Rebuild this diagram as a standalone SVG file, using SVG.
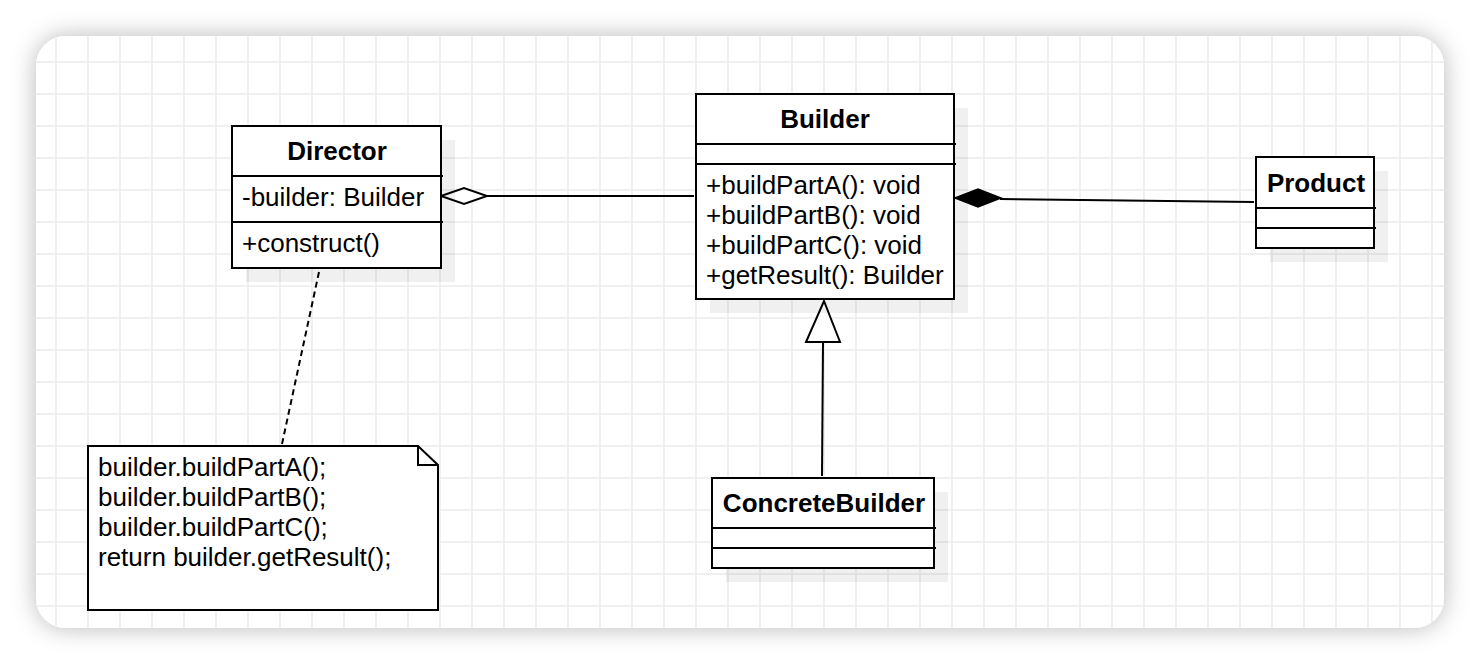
<svg xmlns="http://www.w3.org/2000/svg" width="1480" height="664" viewBox="0 0 1480 664">
<defs>
<filter id="cardShadow" x="-10%" y="-10%" width="120%" height="120%">
<feDropShadow dx="0" dy="0" stdDeviation="12" flood-color="#000" flood-opacity="0.28"/>
</filter>
<pattern id="grid" patternUnits="userSpaceOnUse" x="8" y="14" width="32" height="32">
<path d="M16 0 V32 M0 16 H32" stroke="#ececec" stroke-width="1.6" fill="none"/>
</pattern>
</defs>
<style>
.box{fill:#fff;stroke:#000;stroke-width:2}
.shd{fill:#000;fill-opacity:0.06}
.div{stroke:#000;stroke-width:2}
.t{font-family:"Liberation Sans",Arial,Helvetica,sans-serif;font-size:26px;fill:#000}
.b{font-weight:bold;text-anchor:middle}
.ln{stroke:#000;stroke-width:2;fill:none}
</style>
<rect width="1480" height="664" fill="#fff"/>
<rect x="36" y="36" width="1408" height="592" rx="30" fill="#fff" filter="url(#cardShadow)"/>
<rect x="36" y="36" width="1408" height="592" rx="30" fill="url(#grid)"/>

<g id="connectors">
<path class="ln" d="M487 196 H694"/>
<path d="M441 196 L464 188 L487 196 L464 204 Z" fill="#fff" stroke="#000" stroke-width="2"/>
<path class="ln" d="M1000 199 L1254 202"/>
<path d="M955 198 L978 189 L1001 198 L978 207 Z" fill="#000" stroke="#000" stroke-width="1.5"/>
<path class="ln" d="M823 342 L822 476"/>
<path d="M824 301 L840 342 L806 342 Z" fill="#fff" stroke="#000" stroke-width="2"/>
<path class="ln" d="M319 272 L282 444" stroke-dasharray="6 4" stroke-width="1.6"/>
</g>

<g id="director">
<rect class="shd" x="246" y="140" width="209" height="142"/>
<rect class="box" x="232" y="126" width="209" height="142"/>
<path class="div" d="M232 176 H443 M232 222 H443"/>
<text class="t b" x="337" y="160">Director</text>
<text class="t" x="242" y="206">-builder: Builder</text>
<text class="t" x="242" y="252">+construct()</text>
</g>

<g id="builder">
<rect class="shd" x="710" y="108" width="258" height="205"/>
<rect class="box" x="696" y="94" width="258" height="205"/>
<path class="div" d="M696 144 H956 M696 164 H956"/>
<text class="t b" x="825" y="128">Builder</text>
<text class="t" x="706" y="194">+buildPartA(): void</text>
<text class="t" x="706" y="224">+buildPartB(): void</text>
<text class="t" x="706" y="254">+buildPartC(): void</text>
<text class="t" x="706" y="284">+getResult(): Builder</text>
</g>

<g id="product">
<rect class="shd" x="1270" y="171" width="118" height="91"/>
<rect class="box" x="1256" y="157" width="118" height="91"/>
<path class="div" d="M1256 208 H1376 M1256 228 H1376"/>
<text class="t b" x="1316" y="192">Product</text>
</g>

<g id="concretebuilder">
<rect class="shd" x="726" y="492" width="222" height="90"/>
<rect class="box" x="712" y="478" width="222" height="90"/>
<path class="div" d="M712 528 H936 M712 548 H936"/>
<text class="t b" x="824" y="512">ConcreteBuilder</text>
</g>

<g id="note">
<path class="box" d="M88 446 H418 L438 465 V610 H88 Z"/>
<path class="ln" d="M418 446 V465 H438"/>
<text class="t" x="98" y="476">builder.buildPartA();</text>
<text class="t" x="98" y="506">builder.buildPartB();</text>
<text class="t" x="98" y="536">builder.buildPartC();</text>
<text class="t" x="98" y="566">return builder.getResult();</text>
</g>
</svg>
